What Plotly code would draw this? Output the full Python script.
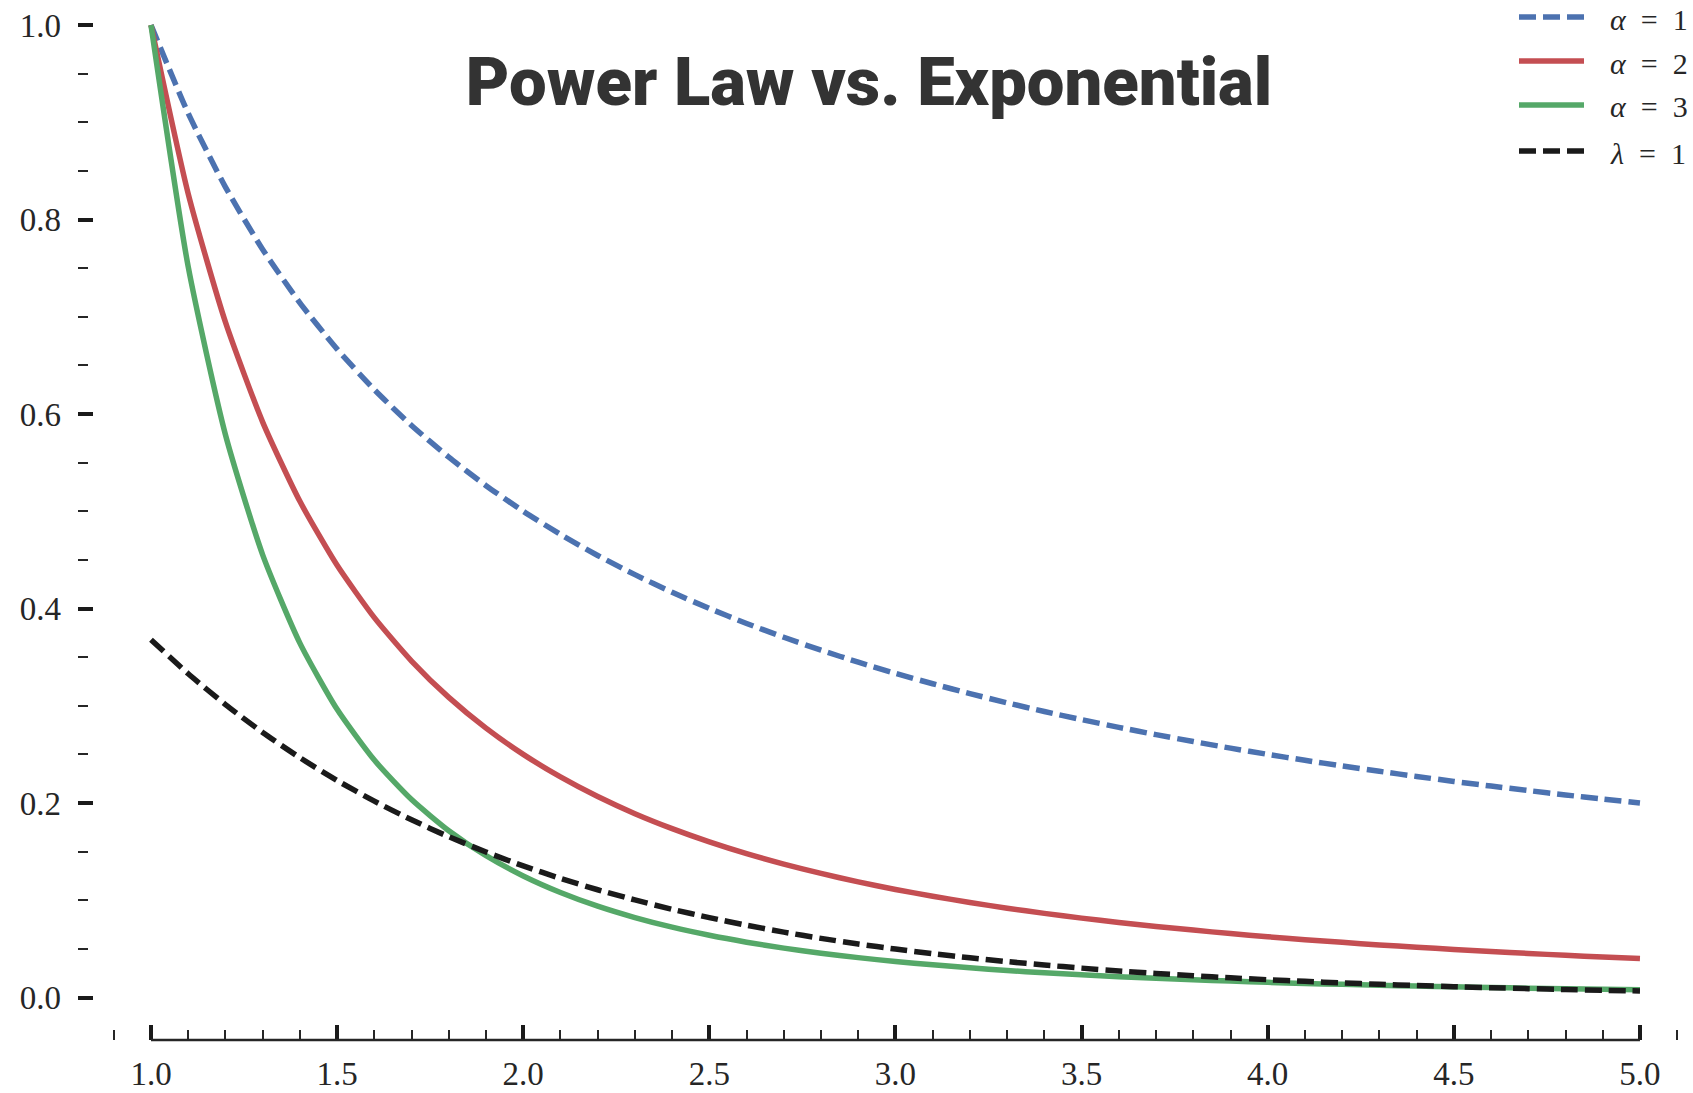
import plotly.graph_objects as go

# ---------------- data ----------------
x_vals = [1.0, 1.1, 1.2, 1.3, 1.4, 1.5, 1.6, 1.7, 1.8, 1.9,
          2.0, 2.1, 2.2, 2.3, 2.4, 2.5, 2.6, 2.7, 2.8, 2.9,
          3.0, 3.1, 3.2, 3.3, 3.4, 3.5, 3.6, 3.7, 3.8, 3.9,
          4.0, 4.1, 4.2, 4.3, 4.4, 4.5, 4.6, 4.7, 4.8, 4.9, 5.0]

alpha1 = [1.0000, 0.9091, 0.8333, 0.7692, 0.7143, 0.6667, 0.6250, 0.5882, 0.5556, 0.5263,
          0.5000, 0.4762, 0.4545, 0.4348, 0.4167, 0.4000, 0.3846, 0.3704, 0.3571, 0.3448,
          0.3333, 0.3226, 0.3125, 0.3030, 0.2941, 0.2857, 0.2778, 0.2703, 0.2632, 0.2564,
          0.2500, 0.2439, 0.2381, 0.2326, 0.2273, 0.2222, 0.2174, 0.2128, 0.2083, 0.2041, 0.2000]

alpha2 = [1.0000, 0.8264, 0.6944, 0.5917, 0.5102, 0.4444, 0.3906, 0.3460, 0.3086, 0.2770,
          0.2500, 0.2268, 0.2066, 0.1890, 0.1736, 0.1600, 0.1479, 0.1372, 0.1276, 0.1189,
          0.1111, 0.1041, 0.0977, 0.0918, 0.0865, 0.0816, 0.0772, 0.0730, 0.0693, 0.0657,
          0.0625, 0.0595, 0.0567, 0.0541, 0.0517, 0.0494, 0.0473, 0.0453, 0.0434, 0.0416, 0.0400]

alpha3 = [1.0000, 0.7513, 0.5787, 0.4552, 0.3644, 0.2963, 0.2441, 0.2035, 0.1715, 0.1458,
          0.1250, 0.1080, 0.0939, 0.0822, 0.0723, 0.0640, 0.0569, 0.0508, 0.0456, 0.0410,
          0.0370, 0.0336, 0.0305, 0.0278, 0.0254, 0.0233, 0.0214, 0.0197, 0.0182, 0.0169,
          0.0156, 0.0145, 0.0135, 0.0126, 0.0117, 0.0110, 0.0103, 0.0096, 0.0090, 0.0085, 0.0080]

lambda1 = [0.3679, 0.3329, 0.3012, 0.2725, 0.2466, 0.2231, 0.2019, 0.1827, 0.1653, 0.1496,
           0.1353, 0.1225, 0.1108, 0.1003, 0.0907, 0.0821, 0.0743, 0.0672, 0.0608, 0.0550,
           0.0498, 0.0450, 0.0408, 0.0369, 0.0334, 0.0302, 0.0273, 0.0247, 0.0224, 0.0202,
           0.0183, 0.0166, 0.0150, 0.0136, 0.0123, 0.0111, 0.0101, 0.0091, 0.0082, 0.0074, 0.0067]

series_names = ["<i>α</i>\u2002=\u20021", "<i>α</i>\u2002=\u20022",
                "<i>α</i>\u2002=\u20023", "<i>λ</i>\u2002=\u20021"]
series_values = [alpha1, alpha2, alpha3, lambda1]
series_colors = ["#4C72B0", "#C44E52", "#55A868", "#1A1A1A"]
series_dash = ["17px,7px", "solid", "solid", "17px,7px"]

x_major_ticks = [1.0, 1.5, 2.0, 2.5, 3.0, 3.5, 4.0, 4.5, 5.0]
y_major_ticks = [0.0, 0.2, 0.4, 0.6, 0.8, 1.0]

title_text = "Power Law vs. Exponential"

# ---------------- layout geometry ----------------
W, H = 1693, 1093
ML, MR, MT, MB = 78, 3, 0, 53
PW, PH = W - ML - MR, H - MT - MB
X_RANGE = [0.8039, 5.1344]
Y_RANGE = [-0.0437, 1.0257]

def px2paper_x(px):
    return (px - ML) / PW

def px2paper_y(py):
    return (H - MB - py) / PH

serif = "Liberation Serif, Times New Roman, serif"
tick_col = "#1A1A1A"

fig = go.Figure()
for name, vals, col, dash in zip(series_names, series_values, series_colors, series_dash):
    fig.add_trace(go.Scatter(
        x=x_vals, y=vals, mode="lines", name=name,
        line=dict(color=col, width=5.5, dash=dash, shape="spline", smoothing=0.6),
        showlegend=False,
    ))

# x-axis spine (trimmed to data range)
fig.add_shape(type="line", xref="x", yref="paper",
              x0=x_major_ticks[0], x1=x_major_ticks[-1], y0=0, y1=0,
              line=dict(color="#262626", width=2.5))

# manual legend
leg_rows_px = [19, 63, 107, 153]
for name, col, dash, ry in zip(series_names, series_colors, series_dash, leg_rows_px):
    fig.add_shape(type="line", xref="paper", yref="paper",
                  x0=px2paper_x(1519), x1=px2paper_x(1584),
                  y0=px2paper_y(ry - 2), y1=px2paper_y(ry - 2),
                  line=dict(color=col, width=5.5, dash=dash))
    fig.add_annotation(xref="paper", yref="paper",
                       x=px2paper_x(1608), y=px2paper_y(ry),
                       xanchor="left", yanchor="middle", showarrow=False,
                       text=name, font=dict(family=serif, size=30, color="#262626"))

fig.update_layout(
    width=W, height=H,
    margin=dict(l=ML, r=MR, t=MT, b=MB),
    paper_bgcolor="white", plot_bgcolor="white",
    showlegend=False,
    title=dict(text=title_text, x=869 / W, y=1 - 82 / H,
               xanchor="center", yanchor="middle",
               font=dict(family="Roboto, sans-serif",
                         size=67, color="#333333", weight=900)),
)

fig.update_xaxes(
    range=X_RANGE, showgrid=False, zeroline=False, showline=False,
    tickmode="array", tickvals=x_major_ticks,
    ticktext=[f"{v:.1f}" for v in x_major_ticks],
    ticks="inside", ticklen=15, tickwidth=4, tickcolor=tick_col,
    minor=dict(dtick=0.1, tick0=0, ticks="inside", ticklen=10, tickwidth=2, tickcolor="#262626"),
    tickfont=dict(family=serif, size=33, color="#262626"),
    ticklabelstandoff=11,
)
fig.update_yaxes(
    range=Y_RANGE, showgrid=False, zeroline=False, showline=False,
    tickmode="array", tickvals=y_major_ticks,
    ticktext=[f"{v:.1f}" for v in y_major_ticks],
    ticks="inside", ticklen=15, tickwidth=4, tickcolor=tick_col,
    minor=dict(dtick=0.05, tick0=0, ticks="inside", ticklen=10, tickwidth=2, tickcolor="#262626"),
    tickfont=dict(family=serif, size=33, color="#262626"),
    ticklabelstandoff=16, ticklabeloverflow="allow",
)

fig.write_html("out.html", config={"displayModeBar": False},
               post_script="document.body.style.margin='0';")
